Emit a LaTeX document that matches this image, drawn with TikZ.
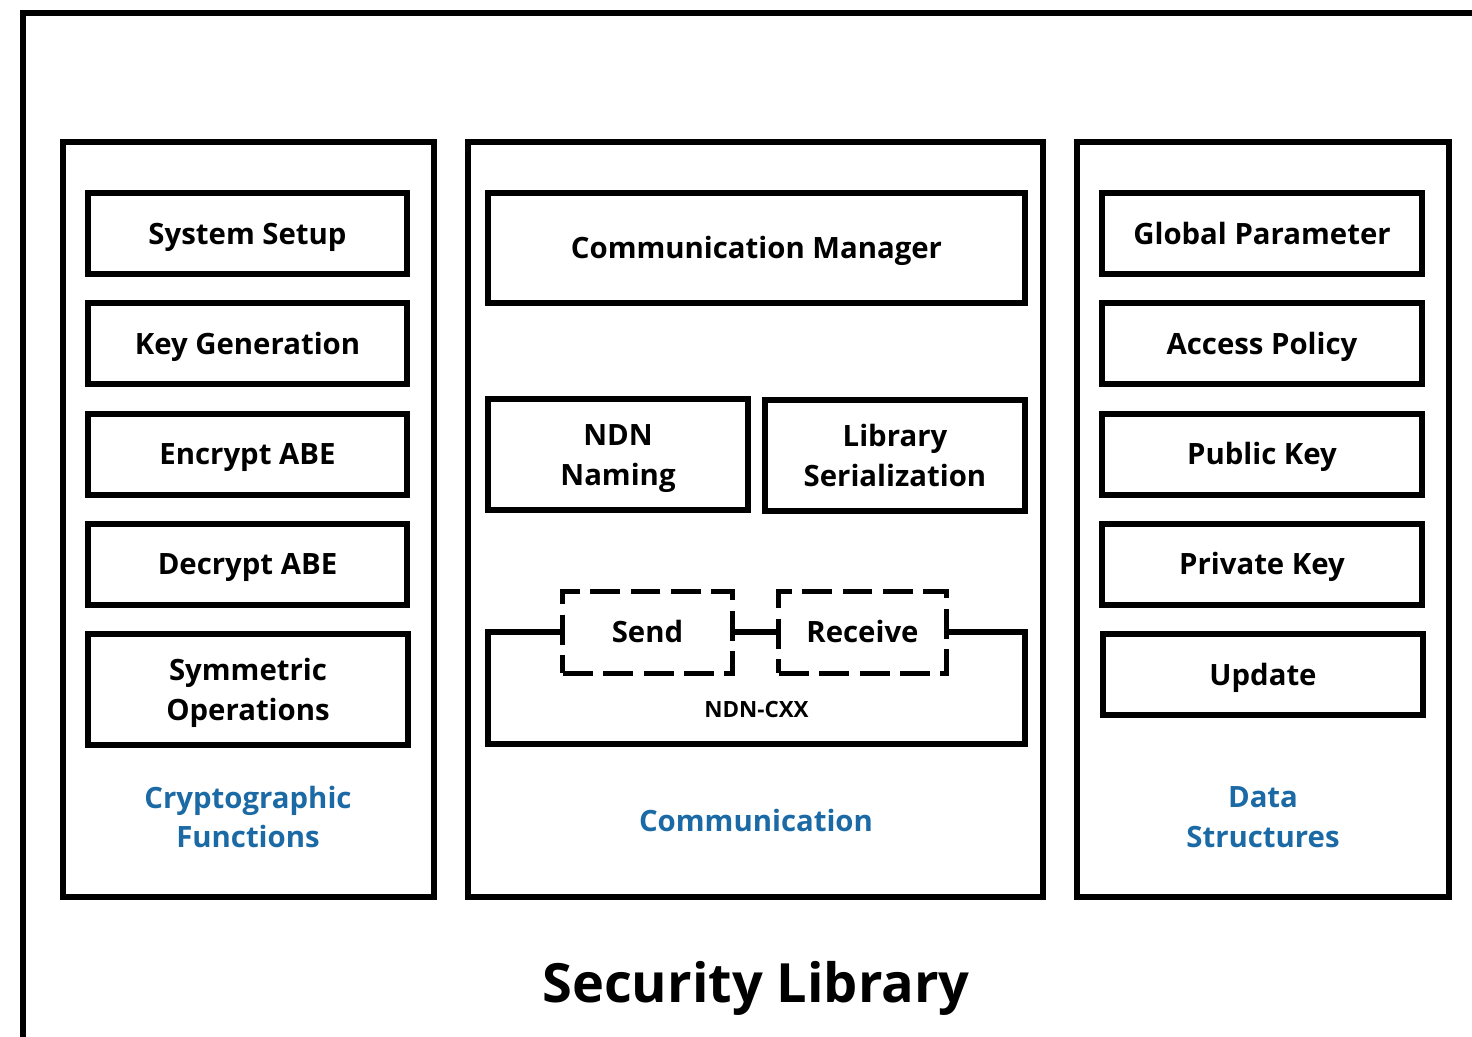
\documentclass[tikz,border=0pt]{standalone}
\usepackage{fontspec}
\setmainfont{Open Sans}
\definecolor{grouplabel}{HTML}{1B6AA5}
\begin{document}
\begin{tikzpicture}[x=0.02cm,y=-0.02cm,
  frame/.style={draw=black,line width=0.12cm},
  panel/.style={frame,minimum width=#1,minimum height=15.1cm,inner sep=0pt},
  modtext/.style={align=center,yshift=-1.7pt,inner sep=0pt,
    font=\fontsize{16.7}{22.7}\selectfont\bfseries},
  module/.style={frame,inner sep=0pt,label={[modtext]center:\strut #1}},
  iobox/.style={draw=black,line width=0.1cm,dash pattern=on 0.6cm off 0.21cm,
    minimum width=#1,minimum height=1.64cm,inner sep=0pt},
  group/.style={text=grouplabel,align=center,
    font=\fontsize{16.7}{22.7}\selectfont\bfseries},
]
\useasboundingbox (0,0) rectangle (1472,1036);

% outer library frame, running off the page at right and bottom
\coordinate (fb) at (23,1045);
\coordinate (fc) at (23,13);
\coordinate (fr) at (1480,13);
\draw[line width=0.12cm] (fb) -- (fc) -- (fr);

% three panels
\node[panel=7.42cm] (crypto) at (248.5,519.5) {};
\node[panel=11.5cm] (comm)   at (755.5,519.5) {};
\node[panel=7.44cm] (data)   at (1263,519.5) {};

% cryptographic functions
\node[module={System Setup},  minimum width=6.38cm,minimum height=1.62cm] (setup)  at (247.5,233.5) {};
\node[module={Key Generation},minimum width=6.38cm,minimum height=1.62cm] (keygen) at (247.5,343.5) {};
\node[module={Encrypt ABE},   minimum width=6.38cm,minimum height=1.62cm] (enc)    at (247.5,454)   {};
\node[module={Decrypt ABE},   minimum width=6.38cm,minimum height=1.62cm] (dec)    at (247.5,564)   {};
\node[module={Symmetric\\\strut Operations},minimum width=6.40cm,minimum height=2.22cm] (sym) at (248,689.5) {};
\node[group] (cryptolbl) at (248,817) {Cryptographic\\Functions};

% communication
\node[module={Communication Manager},minimum width=10.74cm,minimum height=2.2cm] (mgr) at (756.5,248) {};
\node[module={NDN\\\strut Naming},minimum width=5.2cm,minimum height=2.22cm] (name) at (618,454.5) {};
\node[module={Library\\\strut Serialization},minimum width=5.2cm,minimum height=2.22cm] (ser) at (895,455.5) {};
\node[minimum width=10.74cm,minimum height=2.24cm,inner sep=0pt] (ndn) at (756.5,688) {};
\node[iobox=3.4cm,module={Send},draw=black,line width=0.1cm]     (send) at (647.5,632) {};
\node[iobox=3.36cm,module={Receive},draw=black,line width=0.1cm] (recv) at (862.5,632) {};
\draw[line width=0.12cm,line join=miter]
  (send.west) -- (send.west -| ndn.west) -- (ndn.south west)
  -- (ndn.south east) -- (recv.east -| ndn.east) -- (recv.east);
\draw[line width=0.12cm] (send.east) -- (recv.west);
\node[font=\fontsize{12.75}{15}\selectfont\bfseries] (ndnlbl) at (756.5,709) {NDN-CXX};
\node[group] (commlbl) at (756,820) {Communication};

% data structures
\node[module={Global Parameter},minimum width=6.4cm,minimum height=1.62cm] (gp)   at (1262,233.5) {};
\node[module={Access Policy},   minimum width=6.4cm,minimum height=1.62cm] (ap)   at (1262,343.5) {};
\node[module={Public Key},      minimum width=6.4cm,minimum height=1.62cm] (pub)  at (1262,454)   {};
\node[module={Private Key},     minimum width=6.4cm,minimum height=1.62cm] (priv) at (1262,564)   {};
\node[module={Update},          minimum width=6.4cm,minimum height=1.62cm] (upd)  at (1263,674.5) {};
\node[group] (datalbl) at (1263,817) {Data\\Structures};

% title
\node[font=\fontsize{30.8}{34}\selectfont\bfseries] (title) at (756,988) {Security Library};
\end{tikzpicture}
\end{document}
